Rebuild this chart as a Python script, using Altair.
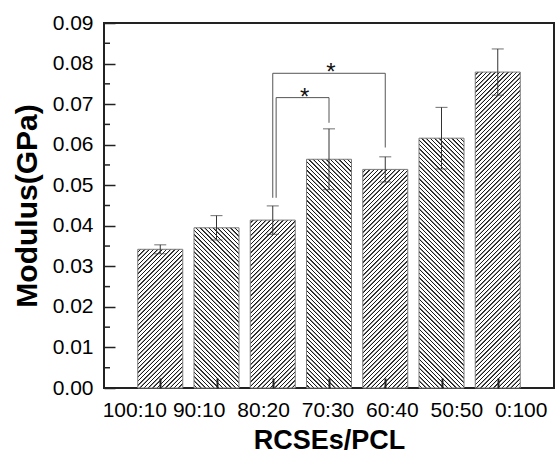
import json
import altair as alt
import pandas as pd

# ---------------- data ----------------
categories = ["100:10", "90:10", "80:20", "70:30", "60:40", "50:50", "0:100"]
modulus = [0.0342, 0.0395, 0.0414, 0.0564, 0.0539, 0.0616, 0.0779]
errors = [0.0011, 0.0030, 0.0035, 0.0075, 0.0031, 0.0076, 0.0057]
hatch_dir = ["/", "\\", "/", "\\", "/", "\\", "/"]

y_major = [0.00, 0.01, 0.02, 0.03, 0.04, 0.05, 0.06, 0.07, 0.08, 0.09]
y_minor = [0.005, 0.015, 0.025, 0.035, 0.045, 0.055, 0.065, 0.075, 0.085]

# significance brackets (bar positions 1..7)
bracket_from = [3.0, 3.06]
bracket_to = [5.0, 4.0]
bracket_top = [0.0776, 0.0716]
bracket_from_end = [0.0469, 0.0469]
bracket_to_end = [0.0593, 0.0654]
bracket_mark = ["*", "*"]

# ---------------- layout / style ----------------
W, H = 450, 365
X_MAX, Y_MAX = 8, 0.09
BAR_W = 0.8
FONT = "Liberation Sans"
LABEL_STEP = 64.4      # px between tick-label centres (wider than the bar step)
LABEL_SHIFT = -1.5     # px shift of the whole label row

positions = list(range(1, len(categories) + 1))
df = pd.DataFrame({"pos": positions, "cat": categories,
                   "modulus": modulus, "err": errors})
df["left"] = df["pos"] - BAR_W / 2
df["right"] = df["pos"] + BAR_W / 2
df["lo"] = df["modulus"] - df["err"]
df["hi"] = df["modulus"] + df["err"]

xscale = alt.Scale(domain=[0, X_MAX], nice=False, zero=False)
yscale = alt.Scale(domain=[0, Y_MAX], nice=False, zero=True)


def hatch_fill(direction, w, h, period=4.3, line=0.9, ramp=0.45,
               dark="#1a1a1a", light="#ffffff"):
    """Striped linear gradient (objectBoundingBox units) giving 45deg hatching."""
    total = w + h
    k = total / (w * w + h * h)
    stops = [alt.GradientStop(offset=0, color=light)]
    s = period * 0.5
    last = 0.0
    while s + line + 2 * ramp < total:
        offs = [s / total, (s + ramp) / total, (s + ramp + line) / total,
                (s + 2 * ramp + line) / total]
        cols = [light, dark, dark, light]
        for o, c in zip(offs, cols):
            o = round(max(o, last), 6)
            stops.append(alt.GradientStop(offset=o, color=c))
            last = o
        s += period
    stops.append(alt.GradientStop(offset=1, color=light))
    if direction == "/":
        x1, y1, x2, y2 = 0, 0, k * w, k * h
    else:
        x1, y1, x2, y2 = 0, 1, k * w, 1 - k * h
    return alt.LinearGradient(gradient="linear", stops=stops,
                              x1=round(x1, 6), y1=round(y1, 6),
                              x2=round(x2, 6), y2=round(y2, 6))


label_expr = json.dumps(categories) + "[datum.value - 1]"
bar_step = W / X_MAX
mid = (len(positions) + 1) / 2
label_offset = {
    "condition": [
        {"test": f"datum.value == {p}",
         "value": round((p - mid) * (LABEL_STEP - bar_step) + LABEL_SHIFT, 2)}
        for p in positions
    ],
    "value": 0,
}

x_axis = alt.Axis(
    values=positions, labelExpr=label_expr, offset=-10, tickSize=10,
    tickWidth=2, tickColor="#222", domain=False, grid=False,
    labelFontSize=21, labelPadding=11, labelOverlap=False, labelFlush=False,
    labelOffset=label_offset,
    title="RCSEs/PCL", titleFontSize=27, titleFontWeight="bold",
    titlePadding=7, zindex=1,
)
y_axis = alt.Axis(
    orient="left", values=y_major, format=".2f", offset=-11, tickSize=11,
    tickWidth=1.5, tickColor="#222", domain=False, grid=False,
    labelFontSize=21, labelPadding=11, labelOverlap=False,
    title="Modulus(GPa)", titleFontSize=30, titleFontWeight="bold",
    titlePadding=10, zindex=1,
)


def X(field):
    return alt.X(field, scale=xscale, axis=x_axis)


def Y(field):
    return alt.Y(field, scale=yscale, axis=y_axis)


# ---------------- bars ----------------
bar_layers = []
w_px = BAR_W / X_MAX * W
for p, v, d in zip(positions, modulus, hatch_dir):
    h_px = v / Y_MAX * H
    bar_layers.append(
        alt.Chart(df)
        .transform_filter(alt.datum.pos == p)
        .mark_rect(fill=hatch_fill(d, w_px, h_px), stroke="#7a7a7a", strokeWidth=1)
        .encode(x=X("left:Q"), x2="right:Q", y=Y("modulus:Q"), y2=alt.datum(0))
    )

# ---------------- error bars ----------------
err_rule = alt.Chart(df).mark_rule(color="#333", strokeWidth=1).encode(
    x=X("pos:Q"), y=Y("lo:Q"), y2="hi:Q",
)
cap_hi = alt.Chart(df).mark_tick(orient="horizontal", size=12, thickness=1,
                                 color="#333").encode(x=X("pos:Q"), y=Y("hi:Q"))
cap_lo = alt.Chart(df).mark_tick(orient="horizontal", size=12, thickness=1,
                                 color="#333").encode(x=X("pos:Q"), y=Y("lo:Q"))

# ---------------- significance brackets ----------------
seg_rows = []
for a, b, t, ea, eb in zip(bracket_from, bracket_to, bracket_top,
                           bracket_from_end, bracket_to_end):
    seg_rows.append({"x": a, "x2": b, "y": t, "y2": t})
    seg_rows.append({"x": a, "x2": a, "y": t, "y2": ea})
    seg_rows.append({"x": b, "x2": b, "y": t, "y2": eb})
seg_df = pd.DataFrame(seg_rows)
brackets = alt.Chart(seg_df).mark_rule(color="#555", strokeWidth=1).encode(
    x=X("x:Q"), x2="x2:Q", y=Y("y:Q"), y2="y2:Q",
)
star_df = pd.DataFrame({
    "x": [(a + b) / 2 for a, b in zip(bracket_from, bracket_to)],
    "y": bracket_top,
    "t": bracket_mark,
})
stars = alt.Chart(star_df).mark_text(
    font=FONT, fontSize=24, baseline="alphabetic", dy=7, dx=2, color="#111"
).encode(x=X("x:Q"), y=Y("y:Q"), text="t:N")

# ---------------- minor y ticks (short inward ticks on the left frame) ----------------
minor_df = pd.DataFrame({"v": y_minor})
minor = alt.Chart(minor_df).mark_rule(color="#222", strokeWidth=1.5).encode(
    x=alt.value(0), x2=alt.value(6), y=Y("v:Q"),
)

chart = (
    alt.layer(*bar_layers, err_rule, cap_lo, cap_hi, brackets, stars, minor)
    .properties(
        width=W, height=H,
        autosize=alt.AutoSizeParams(type="none"),
        padding={"left": 104, "top": 23, "right": 1, "bottom": 67},
        background="white",
    )
    .configure_view(stroke="#222", strokeWidth=2)
    .configure_axis(labelFont=FONT, titleFont=FONT, labelColor="black",
                    titleColor="black")
)

chart.save("out.html", embed_options={"renderer": "svg", "actions": False})
